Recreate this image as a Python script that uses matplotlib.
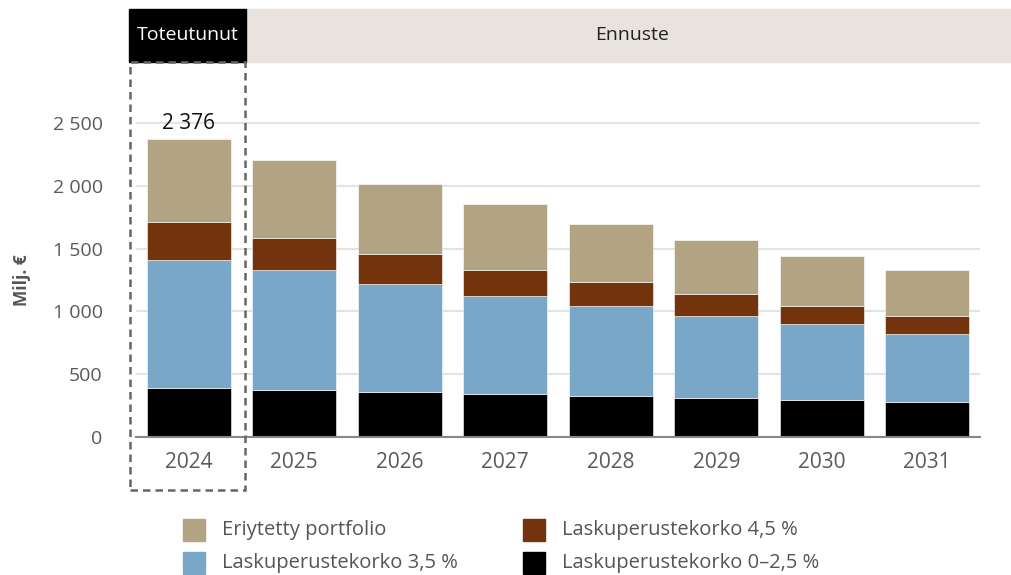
import matplotlib.pyplot as plt
from matplotlib.patches import Rectangle
from matplotlib.ticker import FuncFormatter

years = ["2024", "2025", "2026", "2027", "2028", "2029", "2030", "2031"]
korko_0_25 = [388, 372, 356, 340, 324, 308, 292, 276]
korko_35 = [1021, 958, 862, 783, 719, 655, 608, 544]
korko_45 = [303, 257, 239, 207, 191, 175, 143, 143]
eriytetty = [664, 621, 560, 525, 464, 430, 398, 367]
total_2024 = 2376

series = [
    ("Laskuperustekorko 0–2,5 %", korko_0_25, "#000000"),
    ("Laskuperustekorko 3,5 %", korko_35, "#78A7C7"),
    ("Laskuperustekorko 4,5 %", korko_45, "#73330C"),
    ("Eriytetty portfolio", eriytetty, "#B2A382"),
]
legend_order = [3, 1, 2, 0]

plt.rcParams["font.family"] = ["Open Sans", "DejaVu Sans"]

W, H = 1011, 575
fig = plt.figure(figsize=(W / 100, H / 100), dpi=100)


def fx(px):
    return px / W


def fy(py):
    return 1 - py / H


ax = fig.add_axes([fx(136), fy(437), fx(980) - fx(136), fy(98) - fy(437)])

x = range(len(years))
bottom = [0] * len(years)
for name, vals, col in series:
    ax.bar(x, vals, bottom=bottom, width=0.8, color=col, edgecolor="white", linewidth=0.4)
    bottom = [b + v for b, v in zip(bottom, vals)]

ax.set_xlim(-0.5, 7.5)
ax.set_ylim(0, 2700)
ax.set_yticks([0, 500, 1000, 1500, 2000, 2500])
ax.yaxis.set_major_formatter(FuncFormatter(lambda v, p: f"{v:,.0f}".replace(",", " ")))
ax.set_xticks(list(x))
ax.set_xticklabels(years)
ax.grid(axis="y", color="#E3E3E3", linewidth=1.5)
ax.set_axisbelow(True)
for s in ["top", "right", "left"]:
    ax.spines[s].set_visible(False)
ax.spines["bottom"].set_color("#888888")
ax.spines["bottom"].set_linewidth(1.5)
ax.tick_params(axis="both", length=0, labelcolor="#5A5A5A")
ax.tick_params(axis="y", pad=24, labelsize=14)
ax.tick_params(axis="x", pad=11, labelsize=15)

ax.text(0, total_2024 + 40, f"{total_2024:,}".replace(",", " "), ha="center", va="bottom",
        fontsize=15, color="#111111")

fig.text(fx(22), fy(280), "Milj. €", rotation=90, ha="center", va="center",
         fontsize=12.5, fontweight="bold", color="#555555")

# header band
fig.add_artist(Rectangle((fx(246), fy(62)), fx(1011) - fx(246), fy(9) - fy(62),
                         transform=fig.transFigure, color="#E8E3DD", zorder=0))
fig.add_artist(Rectangle((fx(129), fy(62)), fx(246) - fx(129), fy(9) - fy(62),
                         transform=fig.transFigure, color="#000000", zorder=1))
fig.text(fx(187.5), fy(35), "Toteutunut", ha="center", va="center", fontsize=14, color="white")
fig.text(fx(632), fy(35), "Ennuste", ha="center", va="center", fontsize=14, color="#222222")

# dashed box around actuals
fig.add_artist(Rectangle((fx(130), fy(490)), fx(245) - fx(130), fy(62) - fy(490),
                         transform=fig.transFigure, fill=False, edgecolor="#666666",
                         linewidth=1.8, linestyle=(0, (3, 2)), zorder=5))

# legend
positions = [(183, 530), (183, 563), (523, 530), (523, 563)]
for (lx, ly), i in zip(positions, legend_order):
    name, _, col = series[i]
    fig.add_artist(Rectangle((fx(lx), fy(ly + 11)), fx(22), 22 / H,
                             transform=fig.transFigure, color=col))
    fig.text(fx(lx + 39), fy(ly), name, ha="left", va="center", fontsize=14.5, color="#555555")

fig.savefig("out.png", dpi=100)
